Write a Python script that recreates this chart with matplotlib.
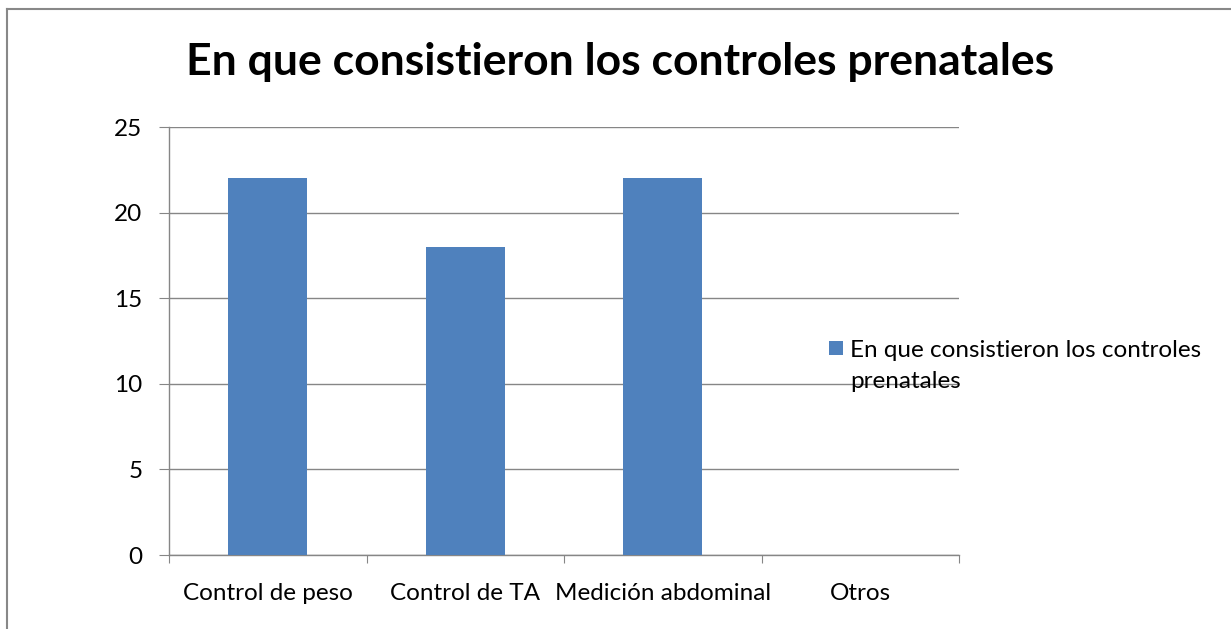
import matplotlib.pyplot as plt
from matplotlib.lines import Line2D
from matplotlib.patches import Rectangle
import numpy as np

plt.rcParams['font.family'] = ['Lato', 'DejaVu Sans']

categories = ['Control de peso', 'Control de TA', 'Medición abdominal', 'Otros']
values = [22, 18, 22, 0]
series_name = 'En que consistieron los controles\nprenatales'
title = 'En que consistieron los controles prenatales'

bar_color = '#4F81BD'
grid_color = '#868686'

fig = plt.figure(figsize=(12.31, 6.29), dpi=100)
ax = fig.add_axes([169/1231, 1 - 555/629, (959-169)/1231, (555-127)/629])

x = np.arange(len(categories))
ax.bar(x, values, width=0.4, color=bar_color, zorder=3)

ax.set_xlim(-0.5, len(categories) - 0.5)
ax.set_ylim(0, 25)
ax.set_yticks(np.arange(0, 26, 5))
ax.set_xticks(np.arange(-0.5, len(categories), 1))
ax.set_xticklabels([])
ax.set_xticks(x, minor=True)
ax.set_xticklabels(categories, minor=True)
ax.tick_params(axis='x', which='minor', length=0, pad=20, labelsize=17.5)
ax.tick_params(axis='x', which='major', length=6, color=grid_color, direction='out')
ax.tick_params(axis='y', length=7, color=grid_color, direction='out', pad=12, labelsize=17.5)

ax.yaxis.grid(True, color=grid_color, linewidth=1, zorder=0)
for s in ['top', 'right']:
    ax.spines[s].set_visible(False)
for s in ['left', 'bottom']:
    ax.spines[s].set_color(grid_color)
    ax.spines[s].set_linewidth(1)

fig.text(620/1231, 1 - 75/629, title, ha='center', va='baseline',
         fontsize=32, fontweight='bold')

# legend (square + two-line label)
fig.add_artist(Rectangle((829/1231, 1 - 355/629), 14/1231, 14/629,
                         transform=fig.transFigure, facecolor=bar_color,
                         edgecolor='none'))
fig.text(850/1231, 1 - 388/629, series_name, ha='left', va='baseline',
         fontsize=17.5, linespacing=1.6, multialignment='left')

# outer frame
fig.add_artist(Line2D([7/1231, 7/1231], [0, 1 - 9/629], color='#888888', lw=1.5))
fig.add_artist(Line2D([7/1231, 1], [1 - 9/629, 1 - 9/629], color='#888888', lw=1.5))

fig.savefig('out.png', dpi=100)
